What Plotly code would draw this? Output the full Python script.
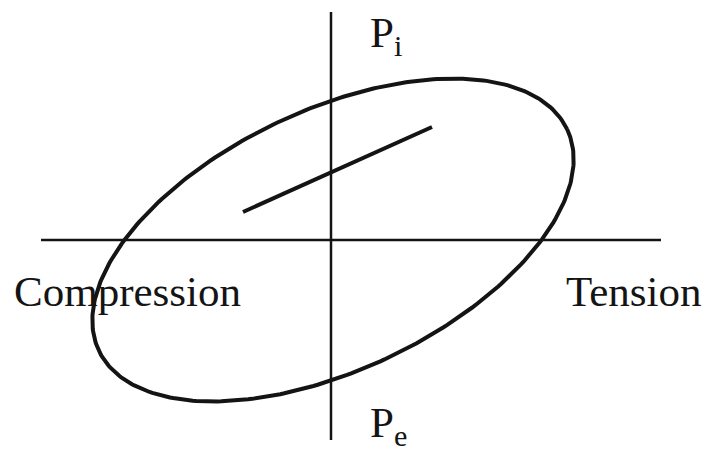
import numpy as np
import plotly.graph_objects as go

# axis extents (origin at the crossing of the two axes)
axis_h_x = [-290, 330]
axis_v_y = [-200, 228]

# hysteresis ellipse: centre, semi-axes, tilt in degrees
ellipse_center = [2, 0]
ellipse_axes = [259, 130]
ellipse_tilt = 25.3

# straight loading path inside the loop
load_x = [-88, 101]
load_y = [28, 113]

labels = ["Compression", "Tension", "P<sub>i</sub>", "P<sub>e</sub>"]

ink = "#141414"
serif = "Liberation Serif"

t = np.linspace(0, 2 * np.pi, 361)
th = np.radians(ellipse_tilt)
ex = ellipse_axes[0] * np.cos(t)
ey = ellipse_axes[1] * np.sin(t)
ell_x = ellipse_center[0] + ex * np.cos(th) - ey * np.sin(th)
ell_y = ellipse_center[1] + ex * np.sin(th) + ey * np.cos(th)

fig = go.Figure()
fig.add_trace(go.Scatter(x=axis_h_x, y=[0, 0], mode="lines",
                         line=dict(color=ink, width=2.5), hoverinfo="skip"))
fig.add_trace(go.Scatter(x=[0, 0], y=axis_v_y, mode="lines",
                         line=dict(color=ink, width=2.5), hoverinfo="skip"))
fig.add_trace(go.Scatter(x=ell_x, y=ell_y, mode="lines",
                         line=dict(color=ink, width=4), hoverinfo="skip"))
fig.add_trace(go.Scatter(x=load_x, y=load_y, mode="lines",
                         line=dict(color=ink, width=4), hoverinfo="skip"))

font = dict(family=serif, size=43, color=ink)
fig.add_annotation(x=-204, y=-51, text=labels[0], showarrow=False, font=font)
fig.add_annotation(x=303, y=-51, text=labels[1], showarrow=False, font=font)
fig.add_annotation(x=37, y=204, text=labels[2], showarrow=False, font=font,
                   xanchor="left")
fig.add_annotation(x=37, y=-186, text=labels[3], showarrow=False, font=font,
                   xanchor="left")

fig.update_layout(
    width=704, height=449,
    showlegend=False,
    xaxis=dict(visible=False, range=[-331, 373]),
    yaxis=dict(visible=False, range=[-209, 240]),
    margin=dict(l=0, r=0, t=0, b=0),
    plot_bgcolor="white", paper_bgcolor="white",
)

# drop the default page margin so the figure fills the window exactly
fig.write_html("out.html", config={"displayModeBar": False},
               post_script="document.body.style.margin='0';")
